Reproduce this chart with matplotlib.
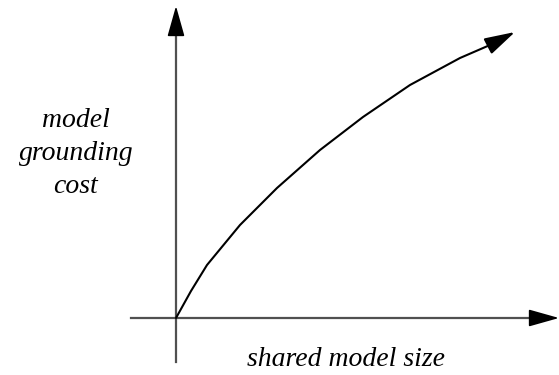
import numpy as np
import matplotlib
matplotlib.use("Agg")
from matplotlib import pyplot as plt

# curve (origin at the axes crossing)
curve_x = [0, 15, 31, 64, 101, 144, 187, 234, 284, 314]
curve_y = [0, 27, 53, 93, 130, 168, 201, 233, 260, 273]
curve_tip = (339, 286)

ylabel_lines = ["model", "grounding", "cost"]
xlabel = "shared model size"

fig = plt.figure(figsize=(5.59, 3.75), dpi=100)
ax = fig.add_axes([0, 0, 1, 1])
ax.set_xlim(-176, 383)
ax.set_ylim(-57, 318)
ax.axis("off")

axis_col = "#505050"
head = "-|>,head_length=1.35,head_width=0.38"
head_props = dict(arrowstyle=head, mutation_scale=14, color="black",
                  lw=1.2, shrinkA=0, shrinkB=0)

# axes: grey lines, black arrow heads
ax.plot([-45, 370], [0, 0], color=axis_col, lw=1.6)
ax.annotate("", xy=(383, 0), xytext=(355, 0), arrowprops=head_props)
ax.plot([0, 0], [-44, 300], color=axis_col, lw=1.6)
ax.annotate("", xy=(0, 312), xytext=(0, 284), arrowprops=head_props)

# the cost curve
ax.plot(curve_x, curve_y, color="black", lw=1.5, solid_capstyle="round",
        solid_joinstyle="round")
ax.annotate("", xy=curve_tip, xytext=(curve_x[-1], curve_y[-1]),
            arrowprops=dict(head_props, lw=1.5))

font = dict(family="Liberation Serif", style="italic", size=20)
for i, line in enumerate(ylabel_lines):
    ax.text(-100, 191 - 33 * i, line, ha="center", va="baseline", **font)
ax.text(170, -48, xlabel, ha="center", va="baseline", **font)

fig.savefig("out.png", dpi=100)
